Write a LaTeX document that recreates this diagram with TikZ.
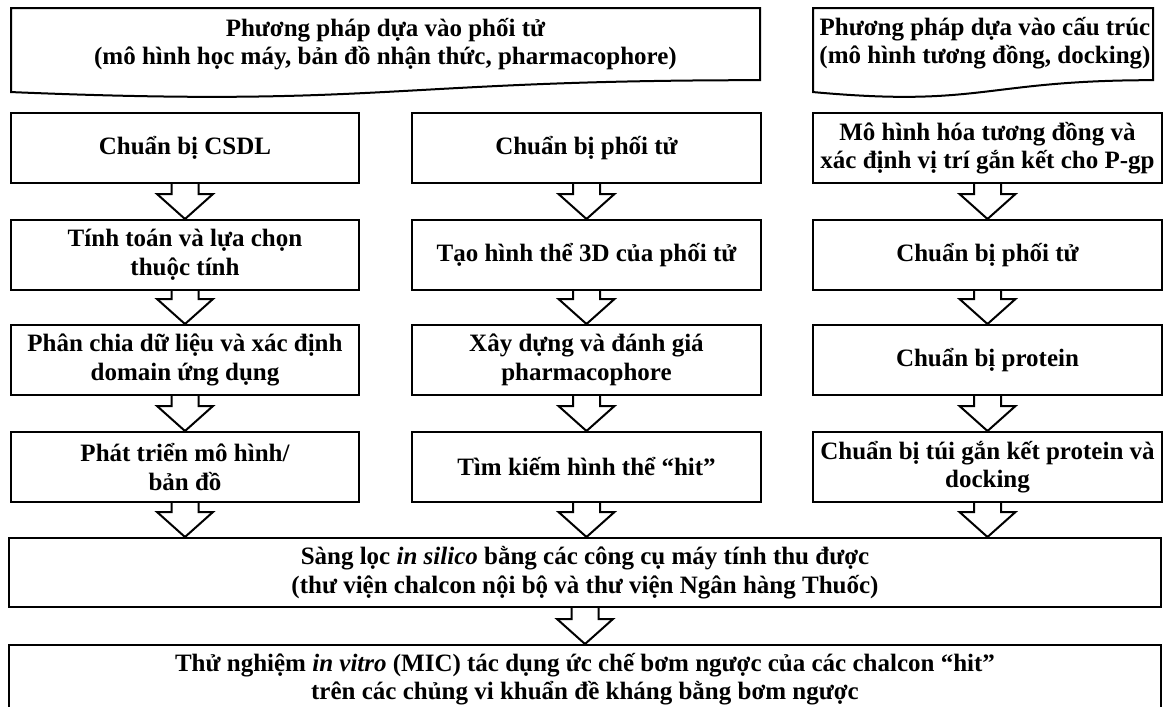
\documentclass[tikz,border=0pt]{standalone}
\usepackage{fontspec}
\setmainfont{Liberation Serif}
\usetikzlibrary{calc}

\tikzset{
  stepbox/.style={draw, line width=2pt, rectangle, inner sep=0pt, align=center,
    font=\fontsize{25}{28.5}\selectfont\bfseries},
  doctext/.style={inner sep=0pt, align=center, font=\fontsize{25}{28.5}\selectfont\bfseries},
  docshape/.style={draw, line width=2pt, line join=miter},
  blockarr/.style={draw, line width=2pt, line join=miter, fill=white}
}

% hollow block arrow from the bottom of #1 to the top of #2
\newcommand\blockarrow[2]{%
  \draw[blockarr] let \p1=(#1.south), \p2=(#2.north) in
    (\x1-13.5pt,\y1) -- (\x1-13.5pt,\y2+25pt) -- (\x1-28pt,\y2+25pt) -- (\x1,\y2)
    -- (\x1+28pt,\y2+25pt) -- (\x1+13.5pt,\y2+25pt) -- (\x1+13.5pt,\y1);
}

% document shape with a wavy bottom edge
\newcommand\docshape[4]{% left, right, top, height
  \pgfmathsetmacro\dm{(#1+#2)/2}
  \draw[docshape] (#1,#3) -- (#2,#3) -- (#2,#3+0.802*#4)
    .. controls (\dm,#3+0.802*#4) and (\dm,#3+1.107*#4) .. (#1,#3+0.934*#4) -- cycle;
}

\begin{document}
\begin{tikzpicture}[x=1pt, y=-1pt]
\useasboundingbox (0,0) rectangle (1163,707);

% method headings
\docshape{11}{760}{8}{90}
\node[doctext] (lig) at (385.5,44) {Phương pháp dựa vào phối tử\\(mô hình học máy, bản đồ nhận thức, pharmacophore)};
\docshape{813}{1153}{8}{90}
\node[doctext] (str) at (985,43) {Phương pháp dựa vào cấu trúc\\(mô hình tương đồng, docking)};

% column 1
\node[stepbox, minimum width=348pt, minimum height=70pt] (a1) at (185,148) {Chuẩn bị CSDL};
\node[stepbox, minimum width=348pt, minimum height=70pt] (a2) at (185,255) {Tính toán và lựa chọn\\thuộc tính};
\node[stepbox, minimum width=348pt, minimum height=70pt] (a3) at (185,360) {Phân chia dữ liệu và xác định\\domain ứng dụng};
\node[stepbox, minimum width=348pt, minimum height=70pt] (a4) at (185,467) {Phát triển mô hình/\\bản đồ};

% column 2
\node[stepbox, minimum width=349pt, minimum height=70pt] (b1) at (586.5,148) {Chuẩn bị phối tử};
\node[stepbox, minimum width=349pt, minimum height=70pt] (b2) at (586.5,255) {Tạo hình thể 3D của phối tử};
\node[stepbox, minimum width=349pt, minimum height=70pt] (b3) at (586.5,360) {Xây dựng và đánh giá\\pharmacophore};
\node[stepbox, minimum width=349pt, minimum height=70pt] (b4) at (586.5,467) {Tìm kiếm hình thể “hit”};

% column 3
\node[stepbox, minimum width=349pt, minimum height=70pt] (c1) at (987.5,148) {Mô hình hóa tương đồng và\\xác định vị trí gắn kết cho P-gp};
\node[stepbox, minimum width=349pt, minimum height=70pt] (c2) at (987.5,255) {Chuẩn bị phối tử};
\node[stepbox, minimum width=349pt, minimum height=70pt] (c3) at (987.5,360) {Chuẩn bị protein};
\node[stepbox, minimum width=349pt, minimum height=70pt] (c4) at (987.5,467) {Chuẩn bị túi gắn kết protein và\\docking};

% common steps (the last box runs past the lower page edge)
\node[stepbox, minimum width=1152pt, minimum height=69pt] (s) at (585,572.5) {Sàng lọc \textit{in silico} bằng các công cụ máy tính thu được\\(thư viện chalcon nội bộ và thư viện Ngân hàng Thuốc)};
\node[stepbox, minimum width=1152pt, minimum height=68pt] (v) at (585,679) {Thử nghiệm \textit{in vitro} (MIC) tác dụng ức chế bơm ngược của các chalcon “hit”\\trên các chủng vi khuẩn đề kháng bằng bơm ngược};

% arrows
\blockarrow{a1}{a2}
\blockarrow{a2}{a3}
\blockarrow{a3}{a4}
\blockarrow{a4}{s}
\blockarrow{b1}{b2}
\blockarrow{b2}{b3}
\blockarrow{b3}{b4}
\blockarrow{b4}{s}
\blockarrow{c1}{c2}
\blockarrow{c2}{c3}
\blockarrow{c3}{c4}
\blockarrow{c4}{s}
\blockarrow{s}{v}
\end{tikzpicture}
\end{document}
